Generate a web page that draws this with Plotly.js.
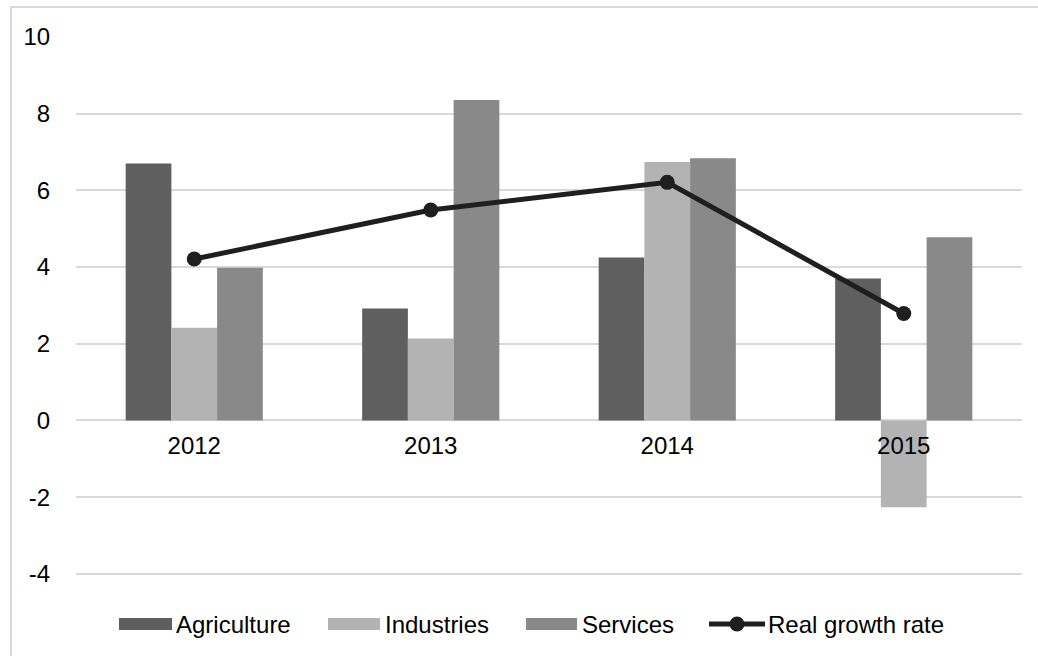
<!DOCTYPE html>
<html>
<head>
<meta charset="utf-8">
<script src="https://cdn.plot.ly/plotly-3.0.1.min.js"></script>
<style>
html,body{margin:0;padding:0;background:#fff;}
#wrap{position:relative;width:1038px;height:656px;overflow:hidden;}
#chart{position:absolute;left:0;top:0;width:1038px;height:656px;}
#frame{position:absolute;left:10px;top:6px;width:1040px;height:660px;border-left:2px solid #d9d9d9;border-top:2px solid #d9d9d9;pointer-events:none;}
</style>
</head>
<body>
<div id="wrap"><div id="chart"></div><div id="frame"></div></div>
<script>
// ---- data ----
const years = ["2012", "2013", "2014", "2015"];
const agriculture = [6.70, 2.92, 4.25, 3.70];
const industries = [2.42, 2.14, 6.74, -2.26];
const services = [3.98, 8.36, 6.84, 4.78];
const realGrowth = [4.21, 5.49, 6.21, 2.79];
const seriesNames = ["Agriculture", "Industries", "Services", "Real growth rate"];
const yTicks = [-4, -2, 0, 2, 4, 6, 8, 10];

// ---- styling ----
const FONT = "Liberation Sans, Arial, sans-serif";
const cAgri = "#5f5f5f", cInd = "#b3b3b3", cServ = "#898989", cLine = "#1f1f1f";
const W = 1038, H = 656, L = 76, R = 16, T = 37, B = 81;
const pw = W - L - R, ph = H - T - B;
const yMin = -4.03, yMax = 10;
const px2x = p => (p - L) / pw;
const py2y = p => (H - B - p) / ph;

const traces = [
  {type: "bar", name: seriesNames[0], x: years, y: agriculture, marker: {color: cAgri}, showlegend: false},
  {type: "bar", name: seriesNames[1], x: years, y: industries, marker: {color: cInd}, showlegend: false},
  {type: "bar", name: seriesNames[2], x: years, y: services, marker: {color: cServ}, showlegend: false},
  {type: "scatter", mode: "lines+markers", name: seriesNames[3], x: years, y: realGrowth,
   line: {color: cLine, width: 5}, marker: {color: cLine, size: 15}, showlegend: false}
];

// custom legend (Excel-style long swatches)
const legendY = 624;
const legItems = [
  {kind: "bar", color: cAgri, sx0: 119, sx1: 172, tx: 174, label: seriesNames[0]},
  {kind: "bar", color: cInd, sx0: 328, sx1: 380, tx: 383, label: seriesNames[1]},
  {kind: "bar", color: cServ, sx0: 526, sx1: 577, tx: 580, label: seriesNames[2]},
  {kind: "line", color: cLine, sx0: 709, sx1: 765, tx: 766, label: seriesNames[3]}
];
const shapes = [];
const annotations = [];
legItems.forEach(it => {
  if (it.kind === "bar") {
    shapes.push({type: "rect", xref: "paper", yref: "paper",
      x0: px2x(it.sx0), x1: px2x(it.sx1), y0: py2y(legendY + 6), y1: py2y(legendY - 6),
      fillcolor: it.color, line: {width: 0}});
  } else {
    shapes.push({type: "line", xref: "paper", yref: "paper",
      x0: px2x(it.sx0), x1: px2x(it.sx1), y0: py2y(legendY), y1: py2y(legendY),
      line: {color: it.color, width: 5}});
    const cx = (it.sx0 + it.sx1) / 2;
    shapes.push({type: "circle", xref: "paper", yref: "paper",
      x0: px2x(cx - 7.5), x1: px2x(cx + 7.5), y0: py2y(legendY + 7.5), y1: py2y(legendY - 7.5),
      fillcolor: it.color, line: {width: 0}});
  }
  annotations.push({xref: "paper", yref: "paper", x: px2x(it.tx), y: py2y(legendY),
    xanchor: "left", yanchor: "middle", showarrow: false, text: it.label,
    font: {family: FONT, size: 24, color: "#000"}});
});

const layout = {
  width: W, height: H,
  margin: {l: L, r: R, t: T, b: B, pad: 0},
  paper_bgcolor: "#fff", plot_bgcolor: "#fff",
  font: {family: FONT, size: 24, color: "#000"},
  barmode: "group", bargap: 0.42, bargroupgap: 0,
  showlegend: false,
  xaxis: {
    type: "category", range: [-0.5, 3.5], fixedrange: true,
    showgrid: false, zeroline: false, showline: false,
    anchor: "free", position: (0 - yMin) / (yMax - yMin),
    ticks: "outside", ticklen: 4, tickcolor: "rgba(0,0,0,0)",
    tickfont: {family: FONT, size: 24, color: "#000"}
  },
  yaxis: {
    range: [yMin, yMax], tickvals: yTicks, ticktext: yTicks.map(String),
    showgrid: true, gridcolor: "#d9d9d9", gridwidth: 2,
    zeroline: false, showline: false,
    ticks: "outside", ticklen: 20, tickcolor: "rgba(0,0,0,0)",
    tickfont: {family: FONT, size: 24, color: "#000"}
  },
  shapes: shapes,
  annotations: annotations
};

Plotly.newPlot("chart", traces, layout, {displayModeBar: false, staticPlot: true});
</script>
</body>
</html>
